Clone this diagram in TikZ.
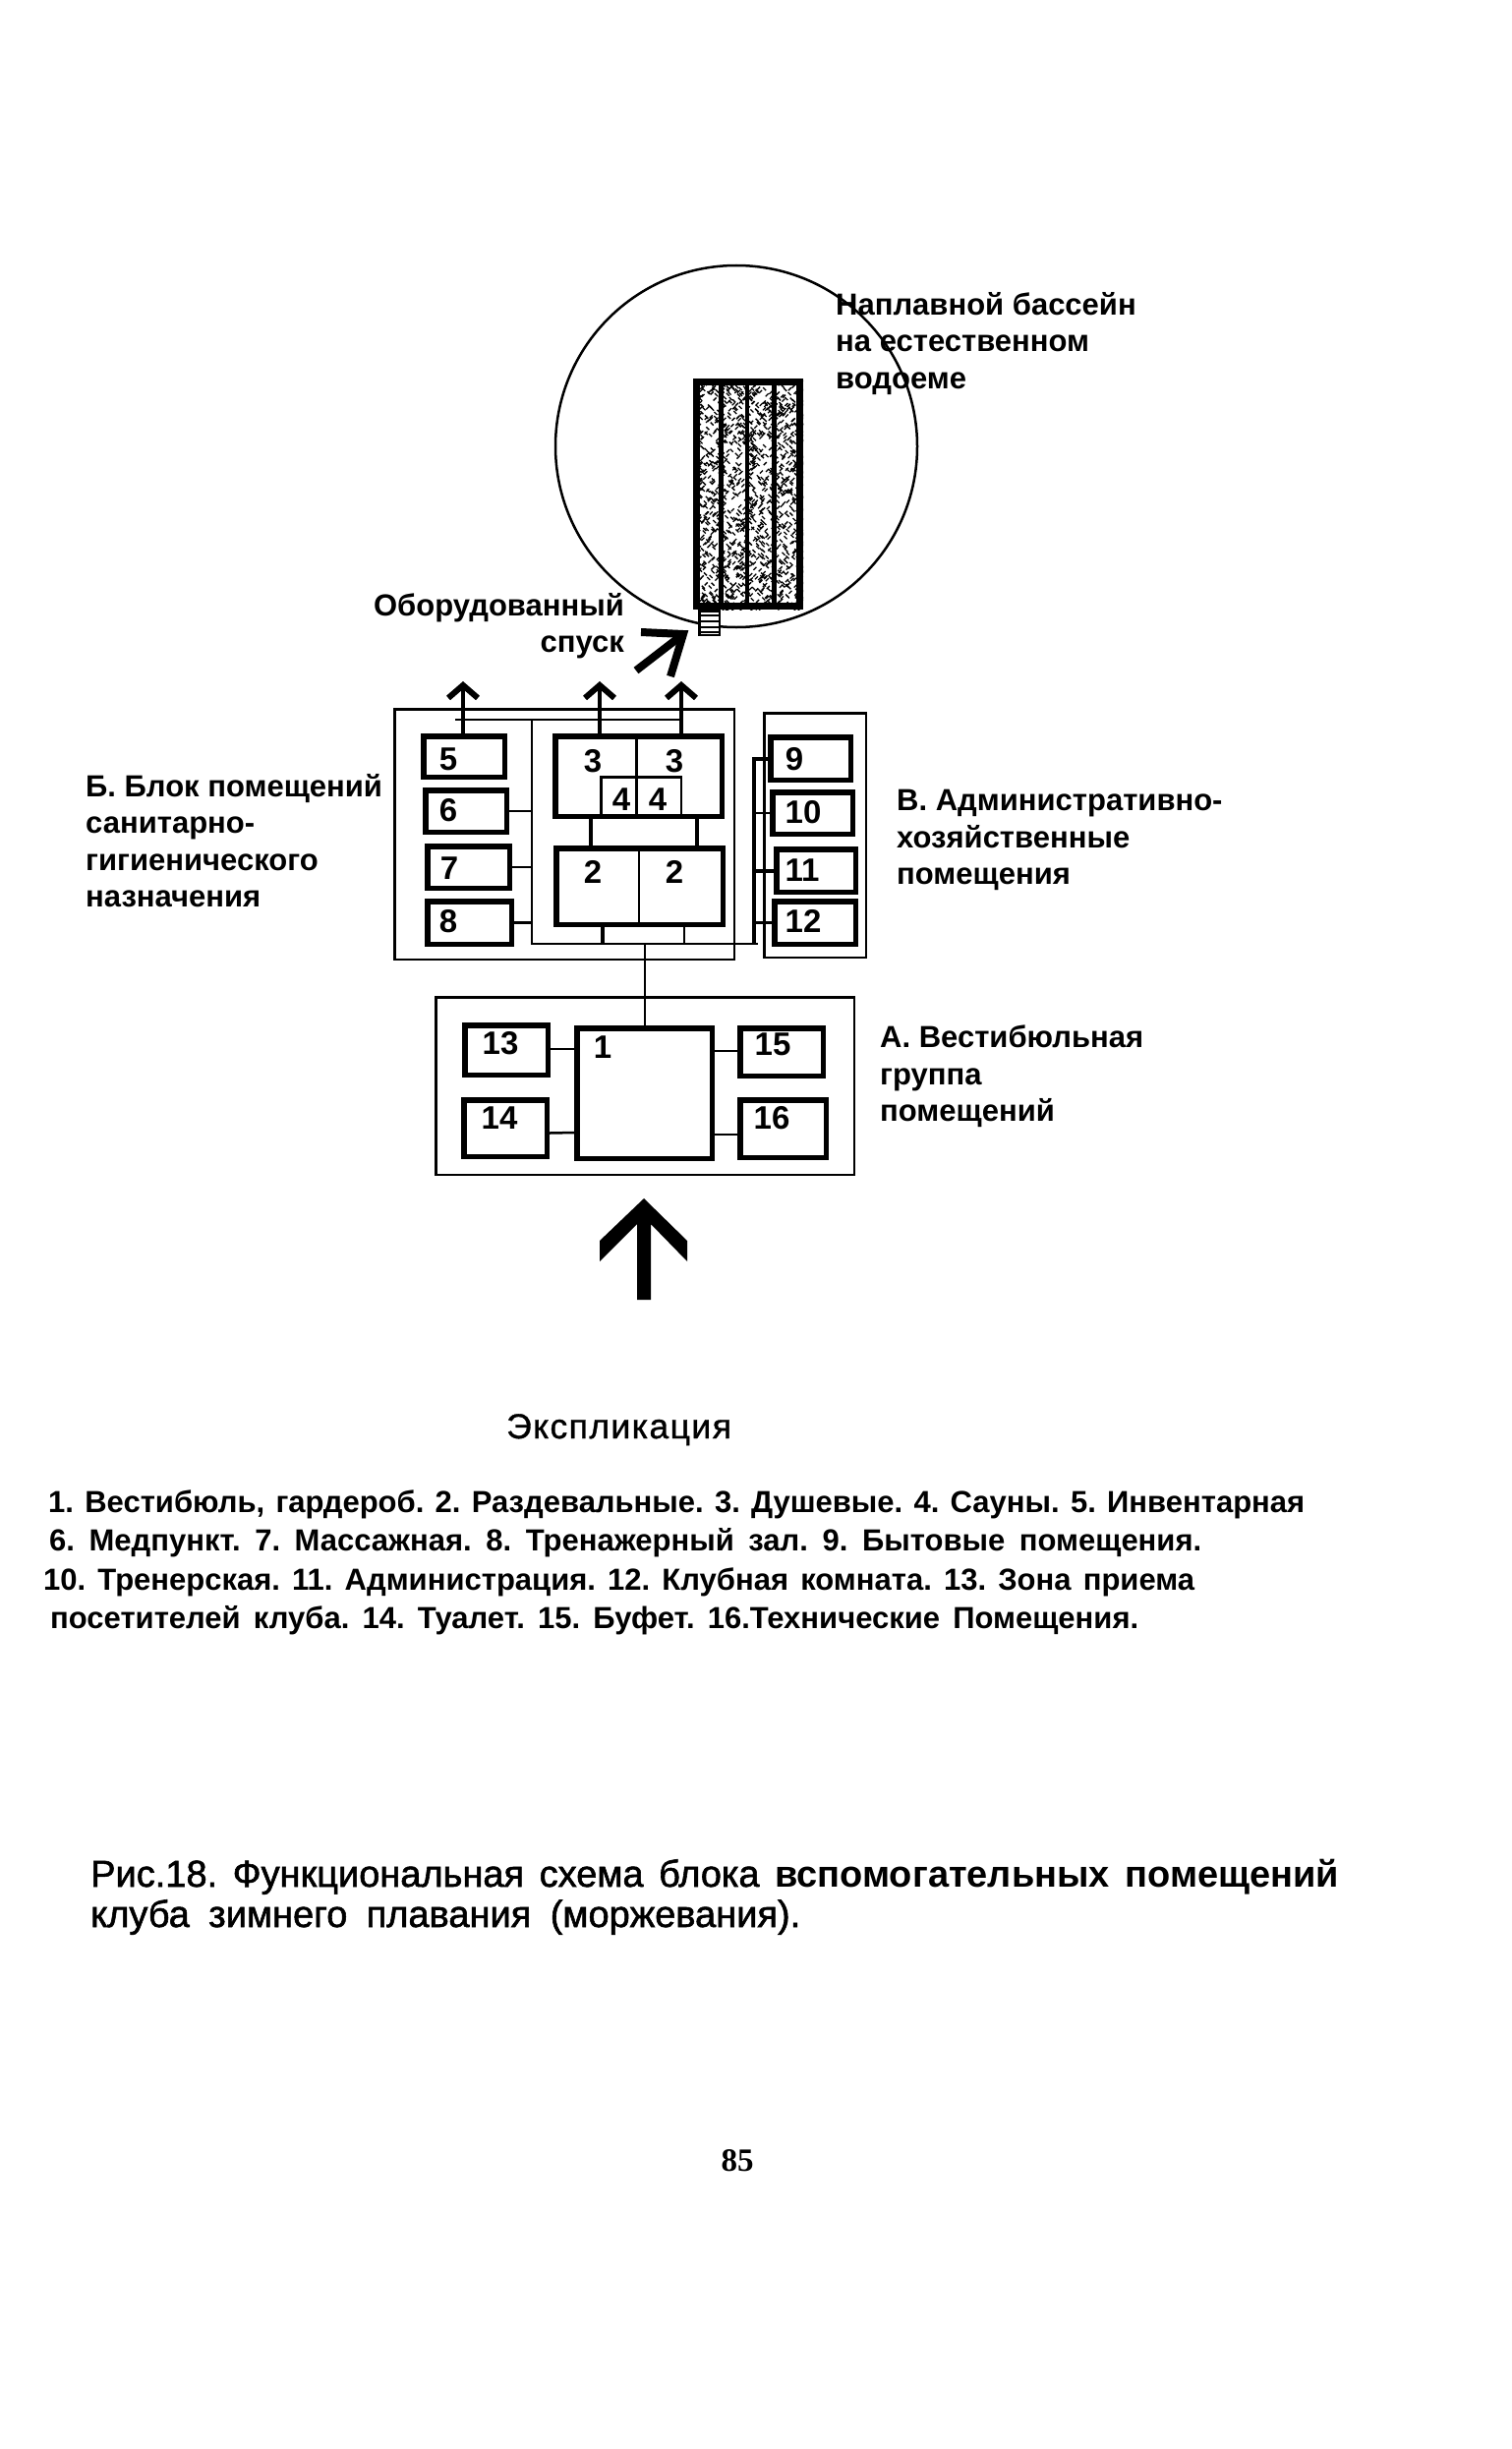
\documentclass[tikz,border=0pt]{standalone}
\usepackage{fontspec}
\setmainfont{Liberation Sans}
\newfontfamily\lblfont{Liberation Sans Bold}
\newfontfamily\legfont{Liberation Sans Bold}
\newfontfamily\capfont[FakeBold=1.5]{Liberation Sans}
\newfontfamily\headfont[FakeBold=1,LetterSpace=4]{Liberation Sans}
\newfontfamily\capbold{Liberation Sans Bold}
\newfontfamily\pgfont{Liberation Serif}
\usetikzlibrary{fit,arrows.meta,calc}
\tikzset{
  frame/.style={draw=black,line width=2.5pt,inner sep=-1.25pt,fit={#1}},
  heavy/.style={draw=black,line width=5.5pt,inner sep=-2.75pt,fit={#1}},
  wire/.style={draw=black,line width=2.5pt},
  fatwire/.style={draw=black,line width=4pt},
  uparrow/.style={draw=black,line width=3.5pt,-{Straight Barb[length=13pt,width=30pt,line width=6pt]}},
  num/.style={inner sep=0pt,font=\legfont\fontsize{33}{33}\selectfont},
  lbl/.style={anchor=north west,inner sep=0pt,align=left,font=\lblfont\fontsize{31}{37.5}\selectfont},
  leg/.style={anchor=base west,inner sep=0pt,font=\legfont\frenchspacing\fontsize{31}{36}\selectfont},
  capline/.style={anchor=base west,inner sep=0pt,font=\capfont\frenchspacing\fontsize{38}{42}\selectfont},
}
\begin{document}
\begin{tikzpicture}[x=1pt,y=-1pt]
\useasboundingbox (0,0) rectangle (1538,2491);
\fill[white] (0,0) rectangle (1538,2491);
% lake
\node[draw=black,line width=2.5pt,circle,minimum size=368pt,inner sep=0pt] (lake) at (749,454) {};
% pool texture
\begin{scope}
\clip (705,385) rectangle (817,620);
\pgfmathsetseed{18}
\foreach \i in {1,...,1500}{
  \pgfmathsetmacro{\px}{705+112*rnd}
  \pgfmathsetmacro{\py}{385+235*rnd}
  \pgfmathsetmacro{\sg}{rnd>0.5?1:-1}
  \draw[line width=1.3pt] (\px,\py) -- ++(3,3*\sg);
}
\end{scope}
\node[draw=black,line width=7pt,inner sep=-3.5pt,fit={(705,385)(817,620)}] (pool) {};
\coordinate (s1) at (733,385); \coordinate (s2) at (760,385); \coordinate (s3) at (787,385);
\foreach \s/\w in {s1/5pt,s2/4pt,s3/5pt}{
  \draw[line width=\w] (\s |- pool.north) -- (\s |- pool.south);
}
% ramp
\node[draw=black,line width=2.5pt,fill=white,inner sep=-1.25pt,fit={(710,620)(733,647)}] (ramp) {};
\foreach \y in {626,632,638,643}{
  \draw[line width=2pt] (711,\y) -- (732,\y);
}
% descent arrow
\coordinate (dtail) at (647,682);
\coordinate (dtip) at (695,645);
\draw[line width=8pt,line join=miter] (dtail) -- (dtip);
\draw[line width=8pt,line join=miter] (652,643) -- (dtip) -- (682,688);
% block frames
\node[frame={(400,720)(748,977)}] (blockB) {};
\node[frame={(776,724)(882,975)}] (blockV) {};
\node[frame={(442,1013)(870,1196)}] (blockA) {};
% block B rooms
\node[heavy={(428,746)(516,793)}] (b5) {};
\node[heavy={(430,801)(518,849)}] (b6) {};
\node[heavy={(432,858)(521,906)}] (b7) {};
\node[heavy={(432,914)(523,963)}] (b8) {};
\node[heavy={(562,746)(737,833)}] (b3) {};
\node[heavy={(563,860)(738,943)}] (b2) {};
\node[draw=black,line width=2.5pt,inner sep=-1.25pt,fit={(610,789)(694,833)}] (b4) {};
\draw[wire] (b3.north) ++(-2,0) -- ($(b3.south)+(-2,0)$);
\draw[wire] (b2.north) ++(-0.5,0) -- ($(b2.south)+(-0.5,0)$);
% block V rooms
\node[heavy={(781,747)(868,796)}] (b9) {};
\node[heavy={(783,803)(870,851)}] (b10) {};
\node[heavy={(787,861)(873,910)}] (b11) {};
\node[heavy={(785,914)(873,963)}] (b12) {};
% block A rooms
\node[heavy={(470,1040)(560,1096)}] (b13) {};
\node[heavy={(469,1116)(559,1179)}] (b14) {};
\node[heavy={(584,1043)(727,1181)}] (b1) {};
\node[heavy={(750,1043)(840,1097)}] (b15) {};
\node[heavy={(750,1116)(843,1180)}] (b16) {};
% bus B
\coordinate (busTL) at (463,732);
\coordinate (busTR) at (693,732);
\coordinate (busV) at (541,732);
\coordinate (busBL) at (541,960);
\coordinate (busBR) at (771,960);
\draw[wire] (busTL) -- (busTR);
\draw[wire] (busV) -- (busBL) -- (busBR);
\draw[wire] (b6.east) -- (b6.east -| busV);
\draw[wire] (b7.east) -- (b7.east -| busV);
\draw[wire] (b8.east) -- (b8.east -| busV);
% links 3-2
\coordinate (c32l) at (601,840);
\coordinate (c32r) at (709,840);
\draw[fatwire] (c32l |- b3.south) -- (c32l |- b2.north);
\draw[fatwire] (c32r |- b3.south) -- (c32r |- b2.north);
% links 2-bus
\coordinate (c2l) at (613,950);
\coordinate (c2r) at (696,950);
\draw[fatwire] (c2l |- b2.south) -- (c2l |- busBL);
\draw[wire] (c2r |- b2.south) -- (c2r |- busBL);
% bus V
\coordinate (busVT) at (767,772);
\coordinate (busVB) at (767,960);
\draw[fatwire] (b9.west |- busVT) -- (busVT) -- (busVB);
\draw[wire] (b10.west) -- (b10.west -| busVT);
\draw[fatwire] (b11.west) -- (b11.west -| busVT);
\draw[wire] (b12.west) -- (b12.west -| busVT);
% trunk
\coordinate (trunkT) at (656,960);
\draw[wire] (trunkT) -- (trunkT |- b1.north);
% links A
\draw[wire] (b13.east) ++(0,-1) -- ($(b1.west)+(0,-45)$);
\draw[wire] (b14.east) ++(0,5) -- ($(b1.west)+(0,40)$);
\draw[wire] (b15.west) ++(0,-1) -- ($(b1.east)+(0,-43)$);
\draw[wire] (b16.west) ++(0,6) -- ($(b1.east)+(0,42)$);
% exit arrows
\coordinate (t5) at (471,693);
\coordinate (t3l) at (610,693);
\coordinate (t3r) at (693,693);
\draw[uparrow] (t5 |- b5.north) -- (t5);
\draw[uparrow] (t3l |- b3.north) -- (t3l);
\draw[uparrow] (t3r |- b3.north) -- (t3r);
% entrance arrow
\fill (655,1219) -- (699,1262) -- (699,1283) -- (662,1245) -- (662,1322) -- (648,1322) -- (648,1245) -- (610,1283) -- (610,1262) -- cycle;
% numbers
\foreach \n/\x/\y/\t in {n5/456/772/5,n6/456/824/6,n7/457/883/7,n8/456/937/8,
  n3a/603/774/3,n3b/686/774/3,n4a/632/813/4,n4b/669/813/4,n2a/603/887/2,n2b/686/887/2,
  n9/808/772/9,n10/817/826/10,n11/816/885/11,n12/817/937/12,
  n13/509/1061/13,n14/508/1137/14,n1/613/1065/1,n15/786/1062/15,n16/785/1137/16}{
  \node[num] (\n) at (\x,\y) {\t};
}
% labels
\node[lbl] (tpool) at (850,297) {Наплавной бассейн\\на естественном\\водоеме};
\node[lbl,align=right,anchor=north east] (tdesc) at (635,603) {Оборудованный\\спуск};
\node[lbl] (tB) at (87,787) {Б. Блок помещений\\санитарно-\\гигиенического\\назначения};
\node[lbl] (tV) at (912,803) {В. Административно-\\хозяйственные\\помещения};
\node[lbl] (tA) at (895,1043) {А. Вестибюльная\\группа\\помещений};
% legend
\node[anchor=base west,inner sep=0pt,font=\headfont\fontsize{35.5}{40}\selectfont] (thead) at (515,1463) {Экспликация};
\node[leg] (l1) at (49,1538) {\makebox[1278pt][s]{1. Вестибюль, гардероб. 2. Раздевальные. 3. Душевые. 4. Сауны.  5. Инвентарная}};
\node[leg] (l2) at (50,1577) {\makebox[1172pt][s]{6. Медпункт.  7. Массажная.  8. Тренажерный  зал.  9. Бытовые помещения.}};
\node[leg] (l3) at (44,1617) {\makebox[1171pt][s]{10. Тренерская. 11. Администрация.  12. Клубная комната. 13. Зона приема}};
\node[leg] (l4) at (51,1656) {\makebox[1107pt][s]{посетителей  клуба. 14. Туалет.  15. Буфет. 16.Технические Помещения.}};
% caption
\node[capline] (c1) at (92,1919) {\makebox[1270pt][s]{Рис.18. Функциональная  схема  блока  {\capbold вспомогательных помещений}}};
\node[capline] (c2) at (92,1960) {\makebox[722pt][s]{клуба зимнего плавания  (моржевания).}};
\node[anchor=base,inner sep=0pt,font=\pgfont\bfseries\fontsize{33}{33}\selectfont] (pg) at (750,2208) {85};
\end{tikzpicture}
\end{document}
